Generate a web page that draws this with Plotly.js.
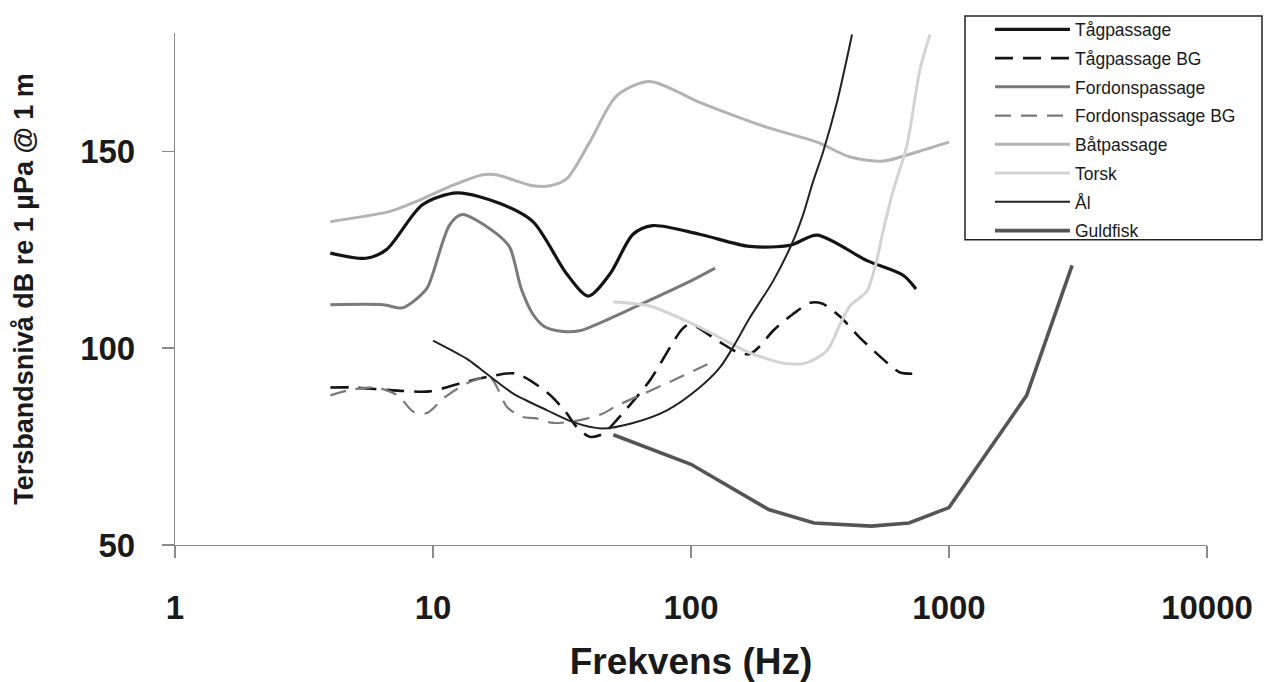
<!DOCTYPE html>
<html>
<head>
<meta charset="utf-8">
<script src="https://cdn.plot.ly/plotly-3.0.1.min.js"></script>
<style>html,body{margin:0;padding:0;background:#fff;}#chart{width:1265px;height:682px;}</style>
</head>
<body>
<div id="chart"></div>
<script>
// ---- data (frequency in Hz, level in dB re 1 µPa @ 1 m) ----
const seriesNames = ["Tågpassage", "Tågpassage BG", "Fordonspassage", "Fordonspassage BG", "Båtpassage", "Torsk", "Ål", "Guldfisk"];

const tagX = [4, 5.5, 6.6, 9.1, 12.4, 18.2, 24.4, 33, 40, 48.5, 59.6, 71, 108, 169, 242, 308, 481, 664, 745];
const tagY = [124.1, 122.8, 125, 136.4, 139.4, 136.7, 132.1, 118.8, 113.2, 118.8, 128.9, 131.1, 128.9, 125.8, 126.1, 128.7, 122.2, 118.5, 115];

const tagBgX = [4, 4.8, 7.3, 9.7, 13, 16.6, 21, 27.7, 32.5, 36, 40.5, 45.5, 51.5, 56.5, 69.3, 93, 99.5, 129.5, 151, 169, 185, 208, 248, 290, 322, 378, 452, 575, 646, 740];
const tagBgY = [90, 90, 89.2, 89, 91.2, 92.8, 93.5, 88.7, 84, 80, 77.5, 78.2, 81.7, 84.7, 91.8, 105, 106, 101.5, 99, 98.5, 100.5, 104.4, 108.6, 111.5, 111.3, 108, 102.6, 96.3, 93.8, 93.5];

const fordonX = [4, 6.4, 7.6, 8.6, 9.5, 11.6, 13, 18.2, 19.9, 22, 24.4, 27, 32, 37, 44.4, 59.6, 99.5, 124];
const fordonY = [111, 111, 110.2, 112.4, 115.3, 131.3, 133.9, 128.3, 125.4, 115, 108.6, 105.5, 104.2, 104.4, 106.4, 110.2, 117, 120.3];

const fordonBgX = [4, 4.65, 6, 7.3, 8.4, 9.5, 11, 13.5, 16.6, 19.4, 22.3, 24.9, 29.2, 37.1, 45.6, 51.7, 67.5, 90, 124];
const fordonBgY = [88, 89.2, 90, 88, 83.8, 83.5, 87.3, 91, 92.6, 85, 82.5, 82.2, 81, 81.7, 83.4, 85.4, 88.8, 92.5, 96.8];

const batX = [4, 6.8, 8.6, 11.6, 15.6, 17.6, 24.4, 28.5, 33, 40.5, 51.6, 69, 108, 196, 308, 414, 558, 751, 1000];
const batY = [132.1, 134.7, 137.2, 141, 144, 144, 141.2, 141.2, 143, 152.3, 164.1, 167.7, 162.4, 156.1, 152.3, 148.5, 147.5, 149.8, 152.3];

const torskX = [50, 69, 102, 130, 169, 236, 282, 337, 378, 413, 452, 481, 516, 555, 606, 687, 772, 844];
const torskY = [111.7, 110.7, 106.1, 102.6, 98.8, 96, 96.3, 99.4, 106, 110.7, 112.8, 114.5, 120.3, 129.6, 139.7, 151.5, 170.8, 179.6];

const alX = [10, 13.5, 15.2, 20.4, 27.7, 34.9, 45, 59.6, 80.7, 108, 129.5, 145.5, 169, 208, 248, 272, 297, 325, 368, 421];
const alY = [101.9, 97.3, 94.8, 88.5, 84.2, 81.2, 79.6, 81, 84.2, 90, 95.1, 100.2, 107.7, 117, 127, 133.9, 142.2, 149.8, 162.4, 179.6];

const guldX = [50, 100, 200, 300, 500, 700, 1000, 2000, 3000];
const guldY = [78, 70.5, 59, 55.6, 54.8, 55.6, 59.5, 88, 121];

const xTickVals = [1, 10, 100, 1000, 10000];
const xTickText = ["1", "10", "100", "1000", "10000"];
const yTickVals = [50, 100, 150];

const FONT = "Liberation Sans, Arial, Helvetica, sans-serif";

function tr(i, x, y, line, shape) {
  return {
    type: "scatter", mode: "lines", name: seriesNames[i], x: x, y: y,
    legendgroup: "g" + i,
    line: Object.assign({shape: shape || "spline", smoothing: 0.8}, line),
    hoverinfo: "x+y+name"
  };
}

const data = [
  tr(0, tagX, tagY, {color: "#141414", width: 3.2}),
  tr(1, tagBgX, tagBgY, {color: "#141414", width: 2.6, dash: "18px,10px"}),
  tr(2, fordonX, fordonY, {color: "#7a7a7a", width: 3}),
  tr(3, fordonBgX, fordonBgY, {color: "#7a7a7a", width: 2.2, dash: "16px,10px"}),
  tr(4, batX, batY, {color: "#b3b3b3", width: 3}),
  tr(5, torskX, torskY, {color: "#d3d3d3", width: 3}),
  tr(6, alX, alY, {color: "#222222", width: 2}),
  tr(7, guldX, guldY, {color: "#555555", width: 3.6}, "linear")
];

const layout = {
  width: 1265, height: 682,
  margin: {l: 175, r: 58, t: 30, b: 137},
  paper_bgcolor: "#ffffff", plot_bgcolor: "#ffffff",
  font: {family: FONT, color: "#1a1a1a"},
  showlegend: true,
  legend: {
    x: 0.7897, xanchor: "left", y: 1.042, yanchor: "top",
    bgcolor: "rgba(0,0,0,0)", borderwidth: 0,
    font: {family: FONT, size: 17.5, color: "#1a1a1a"},
    itemwidth: 75, traceorder: "grouped", tracegroupgap: 3
  },
  shapes: [{
    type: "rect", xref: "paper", yref: "paper", layer: "below",
    x0: (965 - 175) / 1032, x1: (1262 - 175) / 1032,
    y0: (545 - 238) / 515, y1: (545 - 13) / 515,
    line: {color: "#222", width: 1.5}, fillcolor: "#ffffff"
  }],
  xaxis: {
    type: "log", range: [0, 4],
    tickvals: xTickVals, ticktext: xTickText,
    showgrid: false, zeroline: false,
    showline: true, linecolor: "#8a8a8a", linewidth: 1.2,
    ticks: "outside", ticklen: 12, tickcolor: "#8a8a8a", tickwidth: 1.2,
    ticklabelstandoff: 21,
    tickfont: {family: FONT, size: 33, color: "#1a1a1a", weight: "bold"},
    title: {text: "<b>Frekvens (Hz)</b>", font: {family: FONT, size: 37, color: "#1a1a1a"}, standoff: 27},
    automargin: false
  },
  yaxis: {
    range: [50, 180],
    tickvals: yTickVals,
    showgrid: false, zeroline: false,
    showline: true, linecolor: "#8a8a8a", linewidth: 1.2,
    ticks: "outside", ticklen: 12, tickcolor: "#8a8a8a", tickwidth: 1.2,
    ticklabelstandoff: 20,
    tickfont: {family: FONT, size: 33, color: "#1a1a1a", weight: "bold"},
    title: {text: "<b>Tersbandsnivå dB re 1 µPa @ 1 m</b>", font: {family: FONT, size: 27, color: "#1a1a1a"}, standoff: 38},
    automargin: false
  }
};

Plotly.newPlot("chart", data, layout, {displayModeBar: false, staticPlot: true});
</script>
</body>
</html>
